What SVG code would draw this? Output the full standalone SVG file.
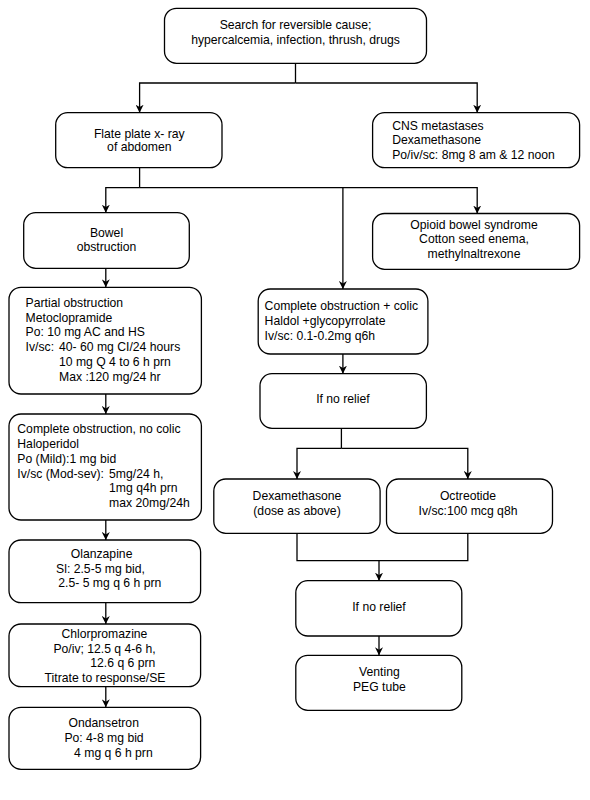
<svg xmlns="http://www.w3.org/2000/svg" width="590" height="800" viewBox="0 0 590 800">
<defs>
<marker id="arr" markerUnits="userSpaceOnUse" viewBox="0 0 10 10" markerWidth="8" markerHeight="8" refX="10" refY="5" orient="auto">
<path d="M0,0 L10,5 L0,10 L3,5 z" fill="#000"/>
</marker>
<style>
rect{fill:#fff;stroke:#000;stroke-width:1.3}
text{font-family:"Liberation Sans",Arial,sans-serif;font-size:12.2px;fill:#000}
.c{text-anchor:middle}
#connectors path{fill:none;stroke:#000;stroke-width:1.3}
.a{marker-end:url(#arr)}
</style>
</defs>
<rect x="0" y="0" width="590" height="800" style="fill:#fff;stroke:none"/>
<g id="connectors">
<path d="M295.5,63.3 V83"/>
<path class="a" d="M295.5,83 H139.6 V112.7"/>
<path class="a" d="M295.5,83 H477.2 V112.7"/>
<path d="M139.6,167.7 V187.7"/>
<path class="a" d="M139.6,187.7 H105.8 V212.7"/>
<path class="a" d="M139.6,187.7 H477.2 V213.5"/>
<path class="a" d="M342.9,187.7 V289"/>
<path class="a" d="M105.8,268.3 V287.3"/>
<path class="a" d="M105.8,394 V414"/>
<path class="a" d="M105.8,520 V540"/>
<path class="a" d="M105.8,602.7 V624"/>
<path class="a" d="M105.8,686.7 V707.3"/>
<path class="a" d="M342.9,354 V373.7"/>
<path d="M341.4,428.3 V448.3"/>
<path class="a" d="M341.4,448.3 H297 V479"/>
<path class="a" d="M341.4,448.3 H467.8 V479"/>
<path d="M297,533.3 V560.7 H467.8 V533.3"/>
<path class="a" d="M379,560.7 V580.7"/>
<path class="a" d="M379,636 V655.3"/>
</g>
<g id="n_search">
<rect x="164.5" y="8.3" width="262" height="55" rx="12"/>
<text class="c" x="295.5" y="29.4">Search for reversible cause;</text>
<text class="c" x="295.5" y="43.7">hypercalcemia, infection, thrush, drugs</text>
</g>
<g id="n_xray">
<rect x="55.7" y="112.7" width="166.3" height="55" rx="12"/>
<text class="c" x="139.3" y="137.7">Flate plate x- ray</text>
<text class="c" x="139.3" y="151.4">of abdomen</text>
</g>
<g id="n_cns">
<rect x="372.6" y="112.7" width="207" height="55" rx="12"/>
<text x="392.2" y="130.1">CNS metastases</text>
<text x="392.2" y="144.4">Dexamethasone</text>
<text x="392.2" y="158.7">Po/iv/sc: 8mg 8 am &amp; 12 noon</text>
</g>
<g id="n_bowel">
<rect x="23.7" y="212.7" width="165.6" height="55.6" rx="12"/>
<text class="c" x="106.5" y="236.7">Bowel</text>
<text class="c" x="106.5" y="251.4">obstruction</text>
</g>
<g id="n_opioid">
<rect x="372.6" y="213.5" width="207" height="55.8" rx="12"/>
<text class="c" x="474" y="228.7">Opioid bowel syndrome</text>
<text class="c" x="474" y="243.4">Cotton seed enema,</text>
<text class="c" x="474" y="258.1">methylnaltrexone</text>
</g>
<g id="n_partial">
<rect x="9" y="287.3" width="192.4" height="106.7" rx="12"/>
<text x="25.6" y="306.7">Partial obstruction</text>
<text x="25.6" y="321.5">Metoclopramide</text>
<text x="25.6" y="336.3">Po: 10 mg AC and HS</text>
<text x="25.6" y="351.1">Iv/sc:</text>
<text x="59" y="351.1">40- 60 mg CI/24 hours</text>
<text x="59" y="365.9">10 mg Q 4 to 6 h prn</text>
<text x="59" y="380.7">Max :120 mg/24 hr</text>
</g>
<g id="n_complete_nocolic">
<rect x="9" y="414" width="192.4" height="106" rx="12"/>
<text x="17.3" y="433.1">Complete obstruction, no colic</text>
<text x="17.3" y="447.9">Haloperidol</text>
<text x="17.3" y="462.7">Po (Mild):1 mg bid</text>
<text x="17.3" y="477.5">Iv/sc (Mod-sev):</text>
<text x="109.1" y="477.5">5mg/24 h,</text>
<text x="109.1" y="492.3">1mg q4h prn</text>
<text x="109.1" y="507.1">max 20mg/24h</text>
</g>
<g id="n_olanzapine">
<rect x="9" y="540" width="191.6" height="62.7" rx="12"/>
<text class="c" x="101.6" y="557.7">Olanzapine</text>
<text x="56.1" y="572.6">Sl: 2.5-5 mg bid,</text>
<text x="58.3" y="587.4">2.5- 5 mg q 6 h prn</text>
</g>
<g id="n_chlorpromazine">
<rect x="9" y="624" width="191.6" height="62.7" rx="12"/>
<text class="c" x="104.4" y="637.7">Chlorpromazine</text>
<text x="53.4" y="652.5">Po/iv; 12.5 q 4-6 h,</text>
<text x="90.3" y="667.2">12.6 q 6 prn</text>
<text class="c" x="105" y="681.9">Titrate to response/SE</text>
</g>
<g id="n_ondansetron">
<rect x="9" y="707.3" width="191.6" height="62" rx="12"/>
<text class="c" x="103.7" y="727.1">Ondansetron</text>
<text x="64.4" y="741.9">Po: 4-8 mg bid</text>
<text x="74.1" y="756.7">4 mg q 6 h prn</text>
</g>
<g id="n_complete_colic">
<rect x="258.2" y="289" width="169.7" height="65" rx="12"/>
<text x="264.6" y="310.4">Complete obstruction + colic</text>
<text x="264.6" y="325.2">Haldol +glycopyrrolate</text>
<text x="264.6" y="340">Iv/sc: 0.1-0.2mg q6h</text>
</g>
<g id="n_norelief1">
<rect x="260" y="373.7" width="166.4" height="54.6" rx="12"/>
<text class="c" x="342.9" y="403.4">If no relief</text>
</g>
<g id="n_dexamethasone">
<rect x="213.8" y="479" width="166.3" height="54.3" rx="12"/>
<text class="c" x="297" y="500.1">Dexamethasone</text>
<text class="c" x="297" y="514.6">(dose as above)</text>
</g>
<g id="n_octreotide">
<rect x="386.5" y="479" width="166" height="54.3" rx="12"/>
<text class="c" x="468" y="500.1">Octreotide</text>
<text class="c" x="468" y="514.6">Iv/sc:100 mcg q8h</text>
</g>
<g id="n_norelief2">
<rect x="295.8" y="580.7" width="166" height="55.3" rx="12"/>
<text class="c" x="379" y="611.4">If no relief</text>
</g>
<g id="n_venting">
<rect x="295.8" y="655.3" width="166" height="55" rx="12"/>
<text class="c" x="379.4" y="676.1">Venting</text>
<text class="c" x="379.4" y="690.5">PEG tube</text>
</g>
</svg>
